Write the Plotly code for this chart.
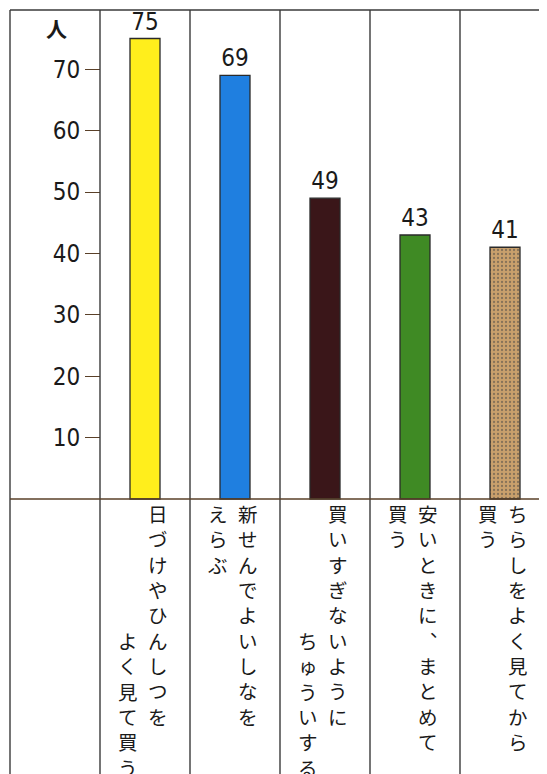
import plotly.graph_objects as go

# ---- data ----
categories = ["日づけやひんしつをよく見て買う", "新せんでよいしなをえらぶ",
              "買いすぎないようにちゅういする", "安いときに、まとめて買う",
              "ちらしをよく見てから買う"]
label_line1 = ["日づけやひんしつを", "新せんでよいしなを", "買いすぎないように",
               "安いときに︑まとめて", "ちらしをよく見てから"]
label_line2 = ["よく見て買う", "えらぶ", "ちゅういする", "買う", "買う"]
line2_row = [5, 0, 5, 0, 0]
values = [75, 69, 49, 43, 41]
bar_colors = ["#FFEE1C", "#1F7FE0", "#3A1619", "#3F8A24", "#C9A06C"]
tick_vals = [10, 20, 30, 40, 50, 60, 70]
unit_label = "人"
note = "（5年生のお母さん100名）"

# ---- geometry (reference pixels -> data) ----
OFF = 8              # page body margin
W, H = 547 - OFF, 774 - OFF
CELL = 90.0          # px per category cell
X_ORIGIN = 100.0     # px of the axis
Y_BASE = 499.0       # px of value 0
PX_PER_UNIT = 6.14   # px per person


def ypx(p):
    return (Y_BASE - p) / PX_PER_UNIT


def xpx(p):
    return (p - X_ORIGIN) / CELL


xs = [i + 0.5 for i in range(len(categories))]
num_font = "DejaVu Sans Condensed, Roboto, Arial"

fig = go.Figure()
fig.add_trace(go.Bar(
    x=xs, y=values, width=1 / 3,
    marker=dict(color=bar_colors, line=dict(color="#2a2a2a", width=1.3),
                pattern=dict(shape=["", "", "", "", "."], fgcolor="#a87e4e",
                             size=4, solidity=0.25)),
    text=[str(v) for v in values], textposition="outside",
    textfont=dict(size=24, color="#1a1a1a", family=num_font),
    constraintext="none", cliponaxis=False, hoverinfo="skip",
))

line_col = "#3a3a3a"
shapes = []
top_v = ypx(10)
bot_v = ypx(800)
# vertical cell borders
for k in range(-1, len(categories)):
    shapes.append(dict(type="line", xref="x", yref="y", x0=k, x1=k,
                       y0=bot_v, y1=top_v, line=dict(color=line_col, width=1.4)))
# top border
shapes.append(dict(type="line", xref="x", yref="y", x0=-1, x1=6,
                   y0=top_v, y1=top_v, line=dict(color=line_col, width=1.4)))
# baseline
shapes.append(dict(type="line", xref="x", yref="y", x0=-1, x1=6,
                   y0=0, y1=0, line=dict(color="#5a4028", width=1.6)))

annotations = []
jp_font = "Noto Sans CJK JP"
pitch = 25.35
text_top = 497.0
for i, x in enumerate(xs):
    annotations.append(dict(
        x=x + 0.14, y=ypx(text_top), xref="x", yref="y",
        text="<br>".join(list(label_line1[i])), showarrow=False,
        xanchor="center", yanchor="top", align="center",
        font=dict(size=19.5, color="#1a1a1a", family=jp_font)))
    annotations.append(dict(
        x=x - 0.19, y=ypx(text_top + line2_row[i] * pitch), xref="x", yref="y",
        text="<br>".join(list(label_line2[i])), showarrow=False,
        xanchor="center", yanchor="top", align="center",
        font=dict(size=19.5, color="#1a1a1a", family=jp_font)))

annotations.append(dict(x=xpx(56), y=ypx(28), xref="x", yref="y", text=unit_label,
                        showarrow=False, xanchor="center", yanchor="middle",
                        font=dict(size=21, color="#1a1a1a", family=jp_font,
                                  weight="bold")))
annotations.append(dict(x=xpx(406), y=ypx(9), xref="x", yref="y", text=note,
                        showarrow=False, xanchor="center", yanchor="bottom",
                        font=dict(size=22, color="#1a1a1a", family=jp_font)))

fig.update_layout(
    width=W, height=H, margin=dict(l=0, r=0, t=0, b=0, pad=0),
    paper_bgcolor="white", plot_bgcolor="white", showlegend=False,
    shapes=shapes, annotations=annotations,
    xaxis=dict(range=[xpx(OFF), xpx(547)], visible=False, fixedrange=True),
    yaxis=dict(range=[ypx(774), ypx(OFF)], anchor="free",
               position=(X_ORIGIN - OFF) / W,
               tickvals=tick_vals, ticks="outside", ticklen=15, tickwidth=1.4,
               tickcolor="#5a4028", showgrid=False, zeroline=False,
               showline=False, automargin=False,
               tickfont=dict(size=24, color="#1a1a1a", family=num_font)),
)

fig.write_html("out.html")
